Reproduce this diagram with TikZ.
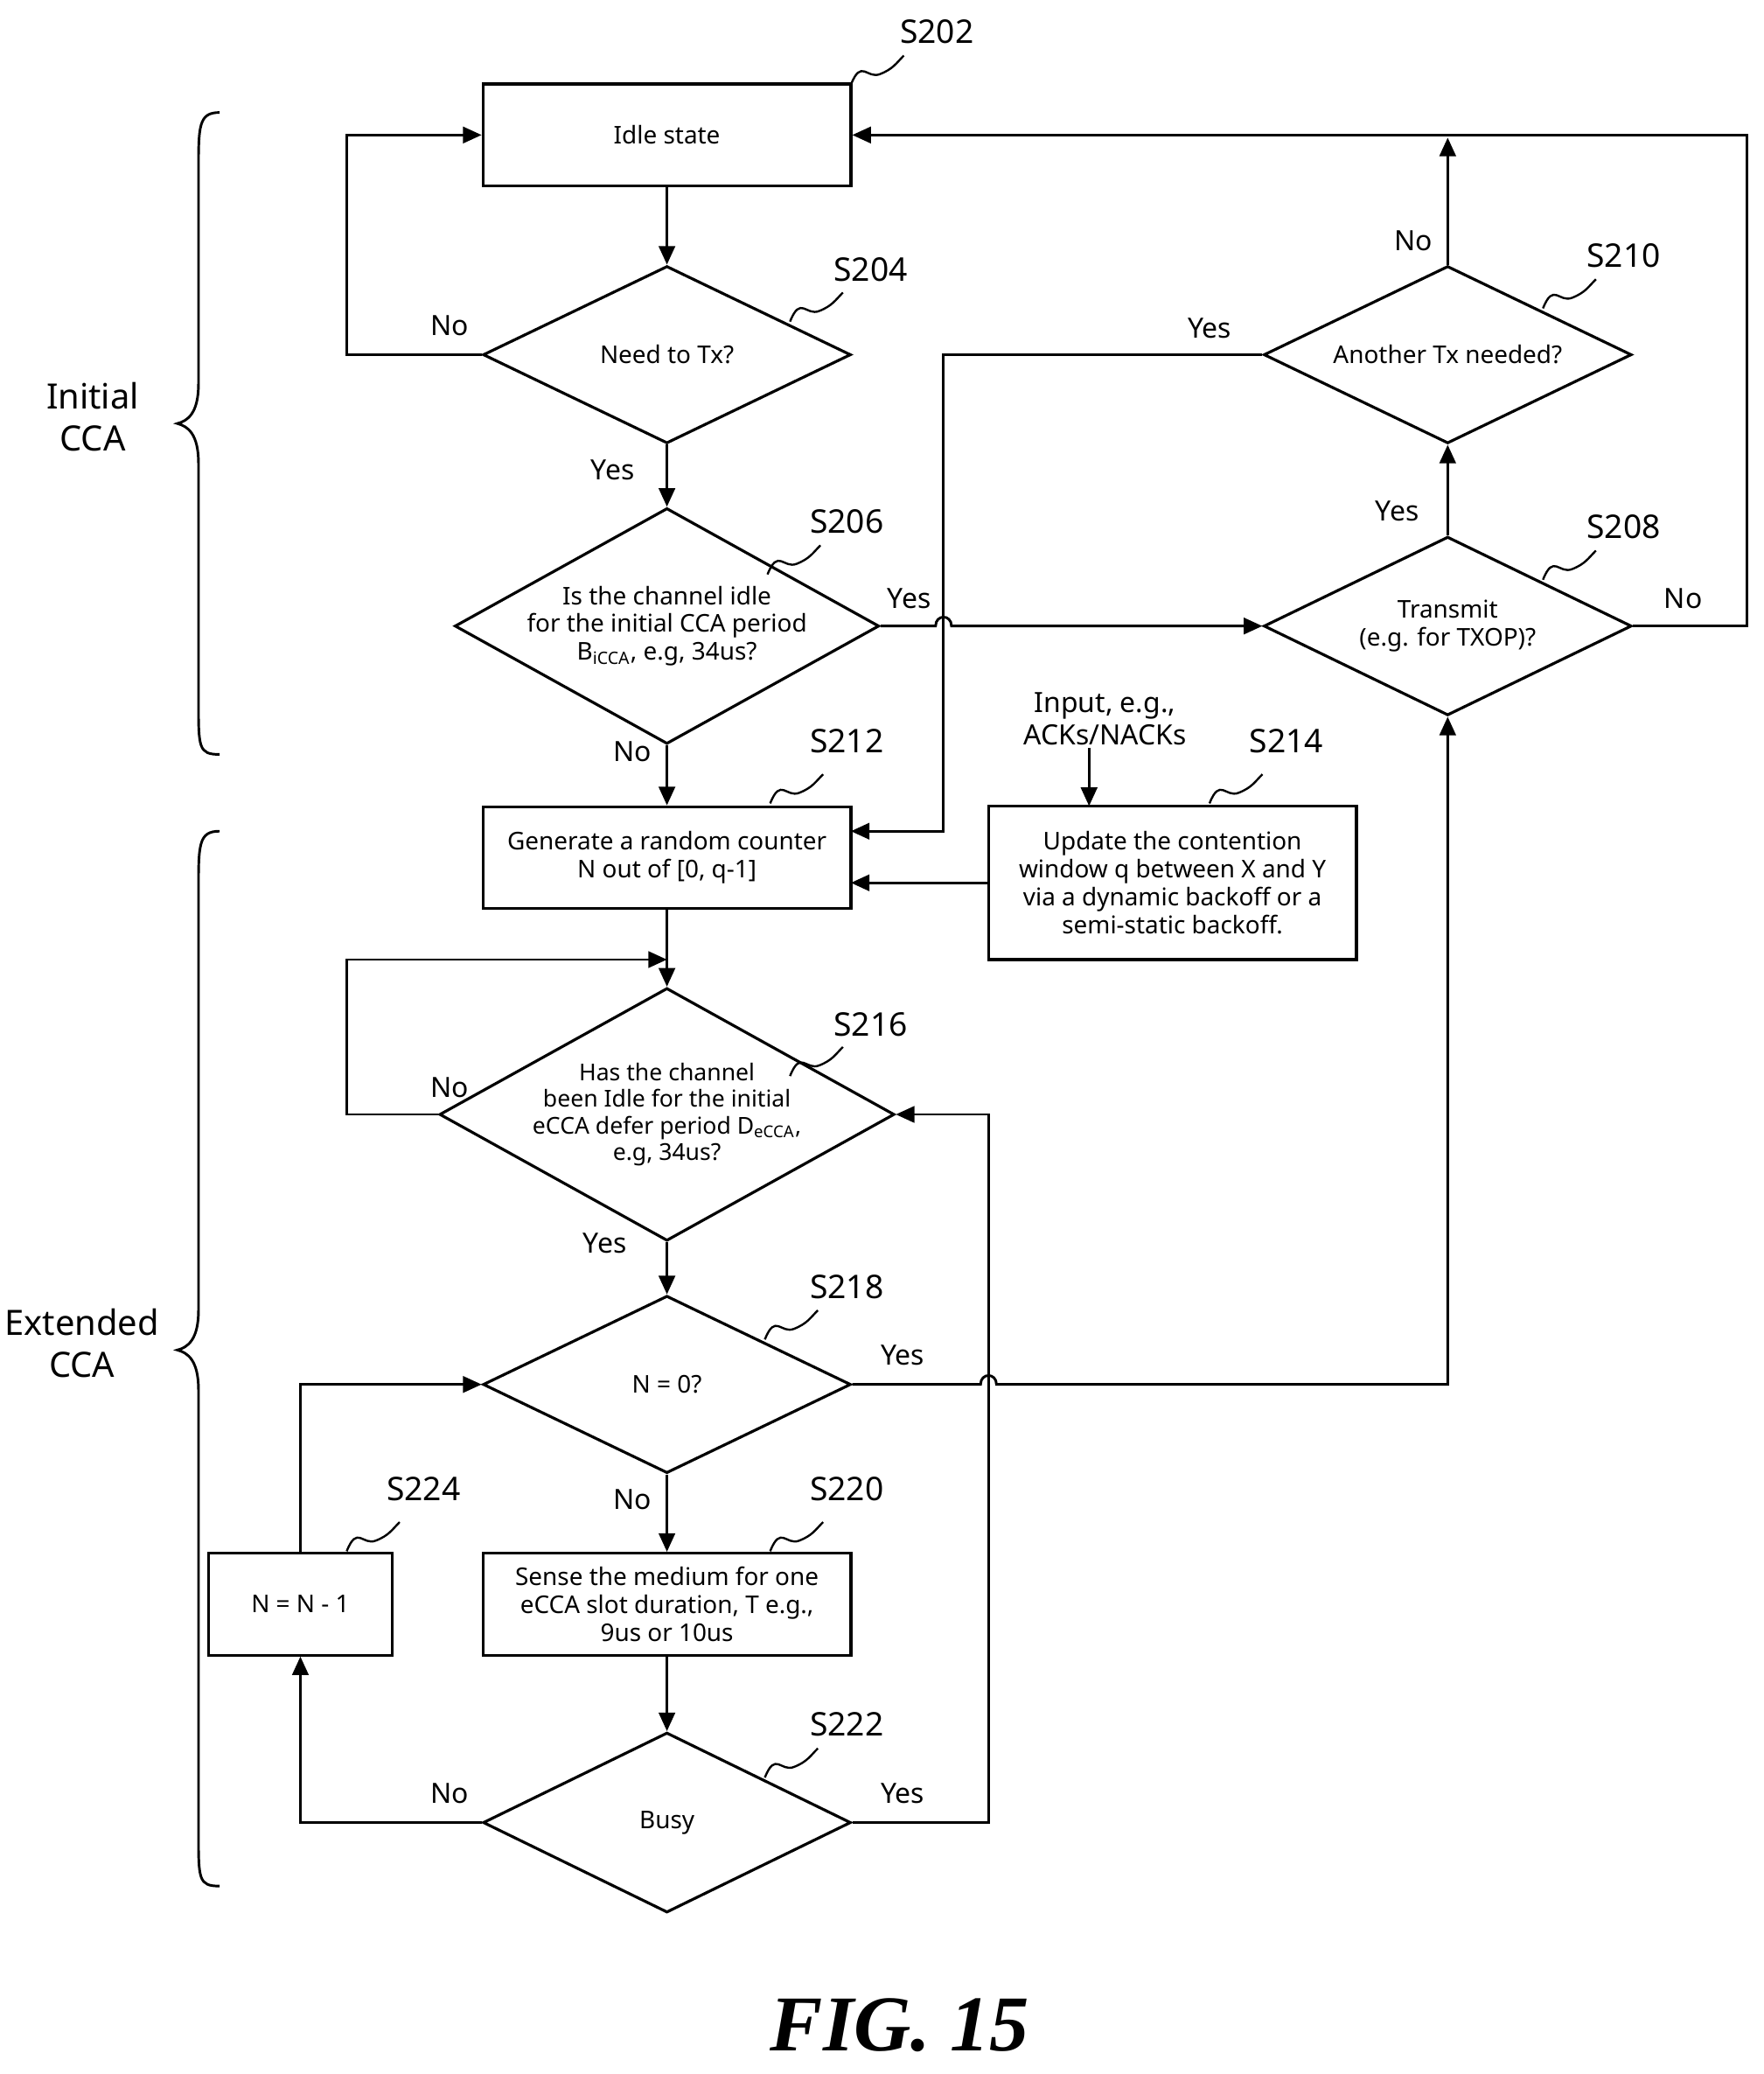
\documentclass[tikz,border=0pt]{standalone}
\usepackage{fontspec}
\setmainfont{Noto Sans}
\usetikzlibrary{shapes.geometric,arrows.meta}
\begin{document}
\begin{tikzpicture}[x=0.02cm,y=-0.02cm,
  ln/.style={line width=1.1pt},
  ar/.style={ln,-{Triangle[length=8pt,width=7pt]}},
  box/.style={draw,line width=1.2pt,minimum width=278*0.02cm,minimum height=77*0.02cm,align=center,font=\fontsize{10.5}{12}\selectfont,inner sep=1pt},
  dia/.style={draw,line width=1.2pt,diamond,aspect=2.07,minimum width=278*0.02cm,minimum height=134*0.02cm,align=center,font=\fontsize{10.5}{12}\selectfont,inner sep=0pt},
  yn/.style={font=\fontsize{12}{14}\bfseries\selectfont},
  st/.style={font=\fontsize{14}{16}\selectfont}]
\useasboundingbox (0,0) rectangle (1333,1567);
\newcommand\sq[2]{\draw[line width=0.9pt] (#1,#2) .. controls +(8,-20) and +(-10,4) .. ++(22,-8) .. controls +(10,-4) and +(-6,6) .. ++(18,-14);}
% nodes
\node[box] (s202) at (504,102) {Idle state};
\node[dia] (s204) at (504,268) {Need to Tx?};
\node[dia,minimum height=154*0.02cm,aspect=1.8] (s206) at (504,473) {Is the channel idle\\for the initial CCA period\\B\textsubscript{iCCA}, e.g, 34us?};
\node[box] (s212) at (504,648) {Generate a random counter\\N out of [0, q-1]};
\node[box,minimum height=116*0.02cm] (s214) at (886,667) {Update the contention\\window q between X and Y\\via a dynamic backoff or a\\semi-static backoff.};
\node[dia,minimum height=154*0.02cm,aspect=1.8,font=\fontsize{10}{11.5}\selectfont] (s216) at (504,842) {Has the channel\\been Idle for the initial\\eCCA defer period D\textsubscript{eCCA},\\e.g, 34us?};
\node[dia] (s218) at (504,1046) {N = 0?};
\node[box] (s220) at (504,1212) {Sense the medium for one\\eCCA slot duration, T e.g.,\\9us or 10us};
\node[box,minimum width=139*0.02cm] (s224) at (227,1212) {N = N - 1};
\node[dia,minimum height=136*0.02cm] (s222) at (504,1377) {Busy};
\node[dia,minimum height=135*0.02cm] (s208) at (1094,473) {Transmit\\(e.g. for TXOP)?};
\node[dia] (s210) at (1094,268) {Another Tx needed?};
\node[align=center,font=\fontsize{12}{14}\selectfont] (inp) at (835,543) {Input, e.g.,\\ACKs/NACKs};
\coordinate (inpb) at (823,565);
% connectors
\draw[ar] (s202) -- (s204);
\draw[ar] (s204.west) -- (262,268) -- (262,102) -- (s202.west);
\draw[ar] (s204) -- (s206);
\draw[ar] (s206.east) -- (707,473) .. controls (707,464) and (719,464) .. (719,473) -- (s208.west);
\draw[ar] (s206) -- (s212);
\draw[ar] (s208) -- (s210);
\draw[ar] (s210.north) -- (1094,104);
\draw[ar] (s208.east) -- (1320,473) -- (1320,102) -- (s202.east);
\draw[ar] (s210.west) -- (713,268) -- (713,628) -- (643,628);
\draw[ar] (s214.west|-0,667) -- (643,667);
\draw[ar] (inpb) -- (823,609);
\draw[ar] (s212) -- (s216);
\draw[ar] (s216.west) -- (262,842) -- (262,725) -- (504,725);
\draw[ar] (s216) -- (s218);
\draw[ar] (s218.east) -- (741,1046) .. controls (741,1037) and (753,1037) .. (753,1046) -- (1094,1046) -- (s208.south);
\draw[ar] (s218) -- (s220);
\draw[ar] (s220) -- (s222);
\draw[ar] (s222.east) -- (747,1377) -- (747,842) -- (s216.east);
\draw[ar] (s222.west) -- (227,1377) -- (s224.south);
\draw[ar] (s224.north) -- (227,1046) -- (s218.west);
% yes/no
\node[yn] (l1) at (340,246) {No};
\node[yn] (l2) at (463,355) {Yes};
\node[yn] (l3) at (687,452) {Yes};
\node[yn] (l4) at (478,568) {No};
\node[yn] (l5) at (1056,386) {Yes};
\node[yn] (l6) at (1068,182) {No};
\node[yn] (l7) at (1272,452) {No};
\node[yn] (l8) at (914,248) {Yes};
\node[yn] (l9) at (340,822) {No};
\node[yn] (l10) at (457,939) {Yes};
\node[yn] (l11) at (682,1024) {Yes};
\node[font=\fontsize{12}{14}\selectfont] (l12) at (478,1133) {No};
\node[yn] (l13) at (682,1355) {Yes};
\node[yn] (l14) at (340,1355) {No};
% step labels
\node[st] (t202) at (708,24) {S202}; \sq{643}{64}
\node[st] (t204) at (658,204) {S204}; \sq{597}{243}
\node[st] (t206) at (640,394) {S206}; \sq{580}{434}
\node[st] (t212) at (640,560) {S212}; \sq{582}{607}
\node[st] (t214) at (972,560) {S214}; \sq{914}{607}
\node[st] (t216) at (658,774) {S216}; \sq{597}{813}
\node[st] (t218) at (640,972) {S218}; \sq{578}{1012}
\node[st] (t220) at (640,1125) {S220}; \sq{582}{1172}
\node[st] (t224) at (320,1125) {S224}; \sq{262}{1172}
\node[st] (t222) at (640,1303) {S222}; \sq{578}{1343}
\node[st] (t208) at (1227,398) {S208}; \sq{1166}{438}
\node[st] (t210) at (1227,193) {S210}; \sq{1166}{233}
% braces
\draw[line width=1.1pt] (166,85) .. controls (150,85) and (150,95) .. (150,130) -- (150,290) .. controls (150,312) and (142,318) .. (134,320) .. controls (142,322) and (150,328) .. (150,350) -- (150,530) .. controls (150,565) and (150,570) .. (166,570);
\draw[line width=1.1pt] (166,628) .. controls (150,628) and (150,638) .. (150,673) -- (150,990) .. controls (150,1012) and (142,1018) .. (134,1020) .. controls (142,1022) and (150,1028) .. (150,1050) -- (150,1385) .. controls (150,1420) and (150,1425) .. (166,1425);
\node[align=center,font=\fontsize{15}{18}\selectfont] (ic) at (70,315) {Initial\\CCA};
\node[align=center,font=\fontsize{15}{18}\selectfont] (ec) at (62,1015) {Extended\\CCA};
\node[font=\fontsize{34}{40}\bfseries\itshape\selectfont,font=\fontspec{Liberation Serif}\fontsize{34}{40}\bfseries\itshape\selectfont] (fig) at (680,1530) {FIG. 15};
\end{tikzpicture}
\end{document}
